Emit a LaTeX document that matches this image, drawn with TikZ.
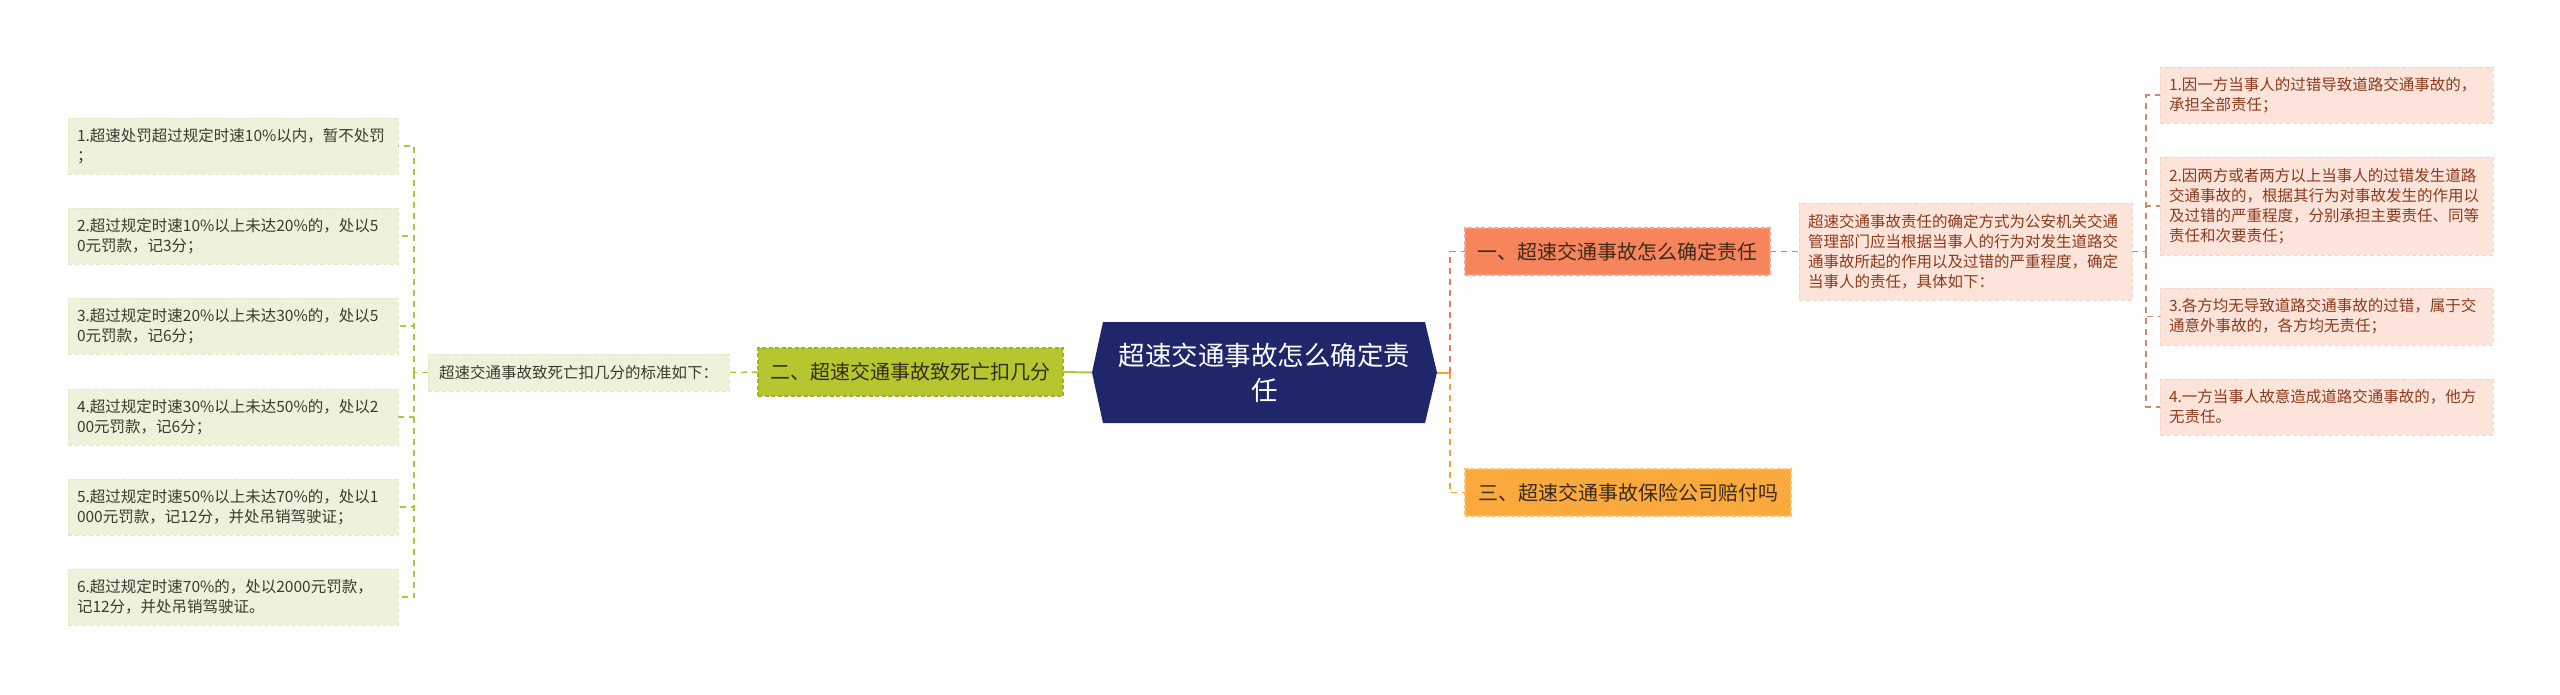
\documentclass[tikz,border=0pt]{standalone}
\usepackage{fontspec}
\newfontfamily\cjk{Noto Sans CJK SC}
\usetikzlibrary{backgrounds}
\definecolor{lfill}{HTML}{EFF2DA}
\definecolor{lborder}{HTML}{E2E8C2}
\definecolor{ltext}{HTML}{3A3A2E}
\definecolor{olive}{HTML}{B3C43A}
\definecolor{b2fill}{HTML}{B5C62E}
\definecolor{b2border}{HTML}{9FB22A}
\definecolor{navy}{HTML}{1F276A}
\definecolor{b1fill}{HTML}{F7855C}
\definecolor{b1border}{HTML}{FAA285}
\definecolor{b3fill}{HTML}{FAA93C}
\definecolor{b3border}{HTML}{FCC371}
\definecolor{pfill}{HTML}{FCE4DB}
\definecolor{pborder}{HTML}{F7D2C4}
\definecolor{ptext}{HTML}{8E3A1C}
\definecolor{rline}{HTML}{CD8A6E}
\definecolor{coral}{HTML}{EA7A5A}
\definecolor{orangeline}{HTML}{F2A33A}
\definecolor{btext}{HTML}{3A2A1E}
\begin{document}
\begin{tikzpicture}[x=1pt,y=-1pt,
  box/.style={inner sep=0pt, outer sep=0pt, anchor=center},
  lleaf/.style={box, fill=lfill, draw=lborder, dash pattern=on 4pt off 3pt, line width=1pt,
    minimum width=330pt, minimum height=56pt, text width=312pt, align=left, text=ltext,
    font=\cjk\fontsize{15.5}{20.5}\selectfont},
  rleaf/.style={box, fill=pfill, draw=pborder, dash pattern=on 4pt off 3pt, line width=1pt,
    minimum width=333pt, text width=315pt, align=left, text=ptext,
    font=\cjk\fontsize{15.5}{20}\selectfont},
  branch/.style={box, line width=1.2pt, dash pattern=on 4pt off 2.5pt, minimum height=47pt,
    text=btext, font=\cjk\fontsize{20}{24}\selectfont},
  lconn/.style={draw=olive, line width=1.5pt, dash pattern=on 6pt off 5pt},
  rconn/.style={draw=rline, line width=1.5pt, dash pattern=on 6pt off 5pt}]
\useasboundingbox (0,0) rectangle (2560,694);

% left leaves
\node[lleaf] (L1) at (233,146) {1.超速处罚超过规定时速10\%以内，暂不处罚\\；};
\node[lleaf] (L2) at (233,236) {2.超过规定时速10\%以上未达20\%的，处以5\\0元罚款，记3分；};
\node[lleaf] (L3) at (233,326) {3.超过规定时速20\%以上未达30\%的，处以5\\0元罚款，记6分；};
\node[lleaf] (L4) at (233,417) {4.超过规定时速30\%以上未达50\%的，处以2\\00元罚款，记6分；};
\node[lleaf] (L5) at (233,507) {5.超过规定时速50\%以上未达70\%的，处以1\\000元罚款，记12分，并处吊销驾驶证；};
\node[lleaf] (L6) at (233,597) {6.超过规定时速70\%的，处以2000元罚款，\\记12分，并处吊销驾驶证。};

% mid node
\node[box, fill=lfill, draw=lborder, dash pattern=on 4pt off 3pt, line width=1pt,
  minimum width=301pt, minimum height=37pt, text=ltext,
  font=\cjk\fontsize{15.5}{20}\selectfont] (M) at (578.5,372.5) {超速交通事故致死亡扣几分的标准如下：};

% branch 2
\node[branch, fill=b2fill, draw=b2border, minimum width=305pt, minimum height=48pt] (B2) at (910.5,372) {二、超速交通事故致死亡扣几分};

% center
\node[box, minimum width=345pt, minimum height=101pt, text=white, align=center,
  font=\cjk\fontsize{26.5}{35}\selectfont] (C) at (1264.5,372.5) {超速交通事故怎么确定责\\任};
\begin{pgfonlayer}{background}
\fill[navy] (C.west) -- ([xshift=11pt]C.north west) -- ([xshift=-12pt]C.north east) -- (C.east)
  -- ([xshift=-12pt]C.south east) -- ([xshift=11pt]C.south west) -- cycle;
\end{pgfonlayer}

% branches right
\node[branch, fill=b1fill, draw=b1border, minimum width=305pt] (B1) at (1617.5,251.5) {一、超速交通事故怎么确定责任};
\node[branch, fill=b3fill, draw=b3border, minimum width=326pt] (B3) at (1628,492.5) {三、超速交通事故保险公司赔付吗};

% description
\node[rleaf, minimum height=97pt] (D) at (1965.5,251.5) {超速交通事故责任的确定方式为公安机关交通\\管理部门应当根据当事人的行为对发生道路交\\通事故所起的作用以及过错的严重程度，确定\\当事人的责任，具体如下：};

% right leaves
\node[rleaf, minimum height=56pt] (R1) at (2326.5,95) {1.因一方当事人的过错导致道路交通事故的，\\承担全部责任；};
\node[rleaf, minimum height=98pt] (R2) at (2326.5,206) {2.因两方或者两方以上当事人的过错发生道路\\交通事故的，根据其行为对事故发生的作用以\\及过错的严重程度，分别承担主要责任、同等\\责任和次要责任；};
\node[rleaf, minimum height=57pt] (R3) at (2326.5,316.5) {3.各方均无导致道路交通事故的过错，属于交\\通意外事故的，各方均无责任；};
\node[rleaf, minimum height=56pt] (R4) at (2326.5,407) {4.一方当事人故意造成道路交通事故的，他方\\无责任。};

% connectors left
\draw[lconn] (M.west) -- ++(-14,0) coordinate (LJ);
\foreach \i in {1,...,6} \draw[lconn] (LJ) |- (L\i.east);
\draw[lconn] (B2.west) -- (M.east);
\draw[draw=olive, line width=2pt] (C.west) -- (B2.east);

% connectors right of center
\coordinate (J) at (1450,372.5);
\draw[draw=orangeline, line width=2pt] (C.east) -- (J);
\draw[draw=coral, line width=1.5pt, dash pattern=on 6pt off 5pt] (J) |- (B1.west);
\draw[draw=orangeline, line width=1.5pt, dash pattern=on 6pt off 5pt] (J) |- (B3.west);
\draw[rconn] (B1.east) -- (D.west);
\draw[rconn] (D.east) -- ++(14,0) coordinate (RJ);
\foreach \i in {1,...,4} \draw[rconn] (RJ) |- (R\i.west);
\end{tikzpicture}
\end{document}
